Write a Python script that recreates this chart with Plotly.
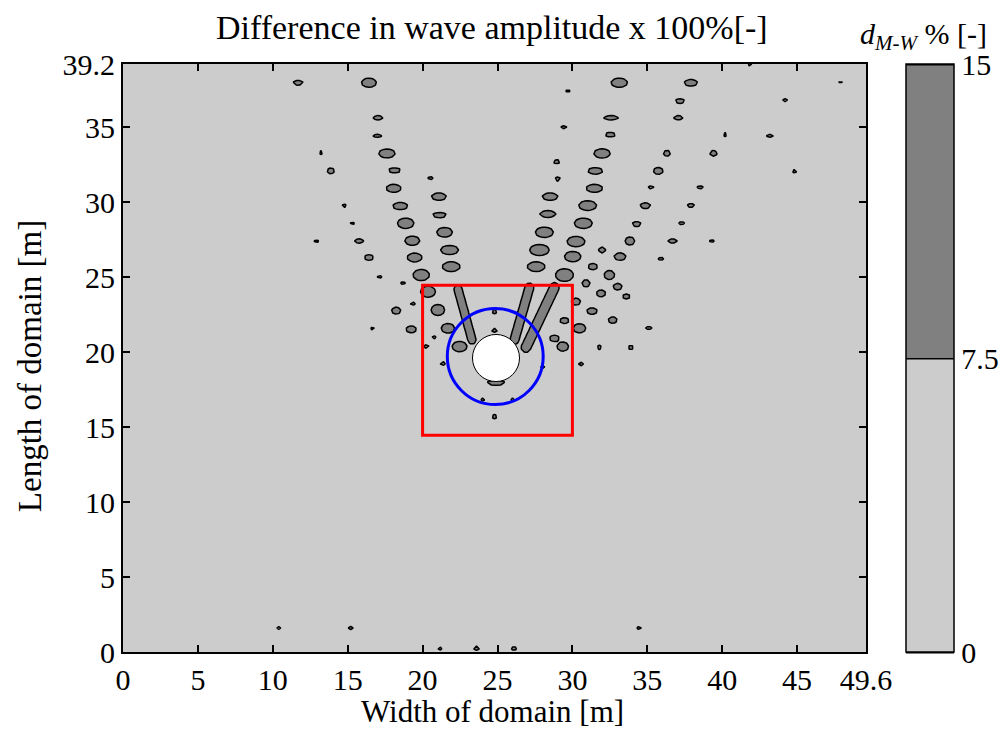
import numpy as np
import plotly.graph_objects as go

# ---------------- data (metres) ----------------
# isolated regions where the difference exceeds the 7.5 % level
blob_x = [11.69, 16.42, 17.02, 16.98, 13.24, 17.62, 13.87, 18.13, 20.53, 18.07,
          21.09, 14.76, 18.51, 21.13, 15.31, 18.87, 21.47, 12.91, 15.76, 19.31,
          21.80, 16.42, 19.47, 21.91, 19.91, 17.13, 18.69, 20.36, 19.36, 18.24,
          21.02, 19.24, 21.69, 20.76, 20.24, 22.47, 21.36, 16.67,
          24.80, 24.80, 24.80, 24.90, 24.02, 26.02,
          27.58, 29.47, 28.13, 27.80, 28.36, 28.51, 28.96, 29.02, 29.42, 29.70,
          30.02, 30.24, 30.73, 31.02, 31.47, 31.53, 31.98, 32.53, 32.58, 33.13,
          31.98, 33.18, 33.84, 34.29, 34.87, 35.24, 35.73, 36.31, 37.07, 37.18, 37.91,
          35.91, 36.69, 37.29, 37.91, 38.53, 39.42, 39.31, 40.18, 43.18, 44.20,
          44.84, 47.90, 41.87,
          31.36, 32.47, 30.91, 31.91, 33.02, 30.24, 31.31, 29.47, 32.69, 30.47,
          28.80, 31.80, 29.36, 30.58, 28.02, 33.60, 35.10, 33.90,
          10.40, 15.20, 34.45, 21.15, 23.60, 26.10]
blob_y = [37.95, 37.95, 35.62, 34.42, 33.29, 33.24, 32.07, 32.11, 31.58, 30.91,
          30.36, 29.73, 29.73, 29.13, 28.53, 28.58, 27.98, 27.36, 27.40, 27.42,
          26.80, 26.30, 26.30, 25.69, 25.13, 25.02, 24.58, 24.02, 23.24, 22.76,
          22.80, 21.51, 21.58, 20.96, 20.36, 20.36, 19.24, 21.53,
          22.69, 15.69, 21.45, 17.95, 16.84, 16.84,
          25.69, 25.13, 27.98, 26.80, 29.20, 30.36, 32.69, 31.53, 34.98, 37.40,
          26.36, 27.36, 28.58, 29.76, 30.91, 32.07, 33.24, 34.49, 35.62, 37.95,
          26.80, 26.36, 27.40, 28.53, 29.76, 30.96, 32.07, 33.24, 35.62, 36.73, 37.95,
          26.24, 27.40, 28.58, 29.76, 30.96, 33.24, 27.40, 34.49, 34.42, 36.78,
          32.07, 37.91, 39.13,
          25.69, 25.13, 24.58, 23.91, 24.36, 23.36, 22.73, 22.09, 22.13, 21.58,
          20.91, 20.31, 20.36, 19.20, 19.02, 23.70, 21.60, 20.30,
          1.60, 1.60, 1.60, 0.25, 0.25, 0.25]
blob_w = [0.67, 1.00, 0.67, 0.60, 0.30, 1.10, 0.50, 0.85, 0.35, 1.00,
          1.00, 0.35, 1.00, 0.95, 0.30, 1.10, 1.05, 0.30, 0.62, 1.00,
          1.20, 0.60, 1.00, 1.20, 1.10, 0.30, 0.30, 1.00, 0.35, 0.62,
          0.90, 0.70, 0.90, 0.30, 0.35, 1.00, 0.35, 0.30,
          0.40, 0.40, 0.40, 1.20, 0.30, 0.30,
          1.20, 1.20, 1.20, 1.30, 1.10, 1.05, 0.55, 0.40, 0.40, 0.25,
          1.10, 1.20, 1.20, 1.20, 1.10, 1.00, 1.10, 0.75, 1.00, 1.10,
          0.48, 0.80, 0.65, 0.62, 0.70, 0.40, 0.65, 0.48, 0.62, 0.62, 0.90,
          0.40, 0.62, 0.40, 0.50, 0.45, 0.48, 0.30, 0.30, 0.45, 0.35,
          0.35, 0.30, 0.30,
          0.62, 0.70, 0.55, 0.62, 0.60, 0.62, 0.70, 0.62, 0.60, 0.85,
          0.65, 0.35, 0.78, 0.35, 0.30, 0.50, 0.45, 0.35,
          0.30, 0.35, 0.30, 0.30, 0.40, 0.35]
blob_h = [0.33, 0.62, 0.33, 0.25, 0.25, 0.60, 0.40, 0.33, 0.25, 0.55,
          0.50, 0.25, 0.50, 0.35, 0.25, 0.70, 0.65, 0.25, 0.33, 0.62,
          0.62, 0.40, 0.60, 0.65, 0.75, 0.25, 0.25, 0.75, 0.25, 0.48,
          0.75, 0.48, 0.65, 0.25, 0.28, 0.70, 0.28, 0.25,
          0.28, 0.28, 0.28, 0.35, 0.25, 0.25,
          0.65, 0.85, 0.70, 0.75, 0.45, 0.50, 0.25, 0.28, 0.25, 0.30,
          0.70, 0.70, 0.70, 0.65, 0.55, 0.45, 0.62, 0.30, 0.33, 0.62,
          0.40, 0.50, 0.55, 0.33, 0.40, 0.25, 0.48, 0.40, 0.33, 0.33, 0.45,
          0.25, 0.33, 0.25, 0.30, 0.25, 0.40, 0.25, 0.25, 0.25, 0.25,
          0.25, 0.25, 0.25,
          0.45, 0.62, 0.48, 0.48, 0.45, 0.48, 0.45, 0.40, 0.45, 0.62,
          0.45, 0.28, 0.62, 0.28, 0.28, 0.35, 0.25, 0.28,
          0.25, 0.25, 0.25, 0.25, 0.30, 0.30]

# elongated regions (streaks) near the cylinder
streak_x0 = [22.36, 27.13, 28.80]
streak_y0 = [24.20, 24.30, 24.30]
streak_x1 = [23.30, 26.13, 26.90]
streak_y1 = [20.80, 20.80, 20.30]
streak_w = [0.55, 0.60, 0.65]

# domain, levels and overlays
domain_w = 49.6
domain_l = 39.2
levels = [0, 7.5, 15]
x_ticks = [0, 5, 10, 15, 20, 25, 30, 35, 40, 45, 49.6]
x_tick_text = ["0", "5", "10", "15", "20", "25", "30", "35", "40", "45", "49.6"]
y_ticks = [0, 5, 10, 15, 20, 25, 30, 35, 39.2]
y_tick_text = ["0", "5", "10", "15", "20", "25", "30", "35", "39.2"]
cyl_cx, cyl_cy, cyl_r = 24.9, 19.6, 1.57
ring_cx, ring_cy, ring_r = 24.85, 19.7, 3.2
box_x = [20.0, 30.0]
box_y = [14.45, 24.45]

# ---------------- field built from the regions ----------------
BASE, PEAK = 2.0, 8.0
k = np.sqrt(2 * np.log(PEAK / (levels[1] - BASE)))
gx = np.round(np.arange(0, domain_w + 1e-9, 0.2), 3)
gy = np.round(np.arange(0, domain_l + 1e-9, 0.2), 3)
X, Y = np.meshgrid(gx, gy)
F = np.zeros_like(X)
for bx, by, bw, bh in zip(blob_x, blob_y, blob_w, blob_h):
    sx = bw / 2 / k
    sy = bh / 2 / k
    F = np.maximum(F, PEAK * np.exp(-0.5 * (((X - bx) / sx) ** 2 + ((Y - by) / sy) ** 2)))
for x0, y0, x1, y1, w in zip(streak_x0, streak_y0, streak_x1, streak_y1, streak_w):
    dx, dy = x1 - x0, y1 - y0
    t = np.clip(((X - x0) * dx + (Y - y0) * dy) / (dx * dx + dy * dy), 0, 1)
    d2 = (X - (x0 + t * dx)) ** 2 + (Y - (y0 + t * dy)) ** 2
    s = w / 2 / k
    F = np.maximum(F, PEAK * np.exp(-0.5 * d2 / s ** 2))
Z = np.round(BASE + F, 2)

FONT = "Liberation Serif"

fig = go.Figure()
fig.add_trace(go.Contour(
    x=gx, y=gy, z=Z,
    zmin=levels[0], zmax=levels[2], autocontour=False,
    contours=dict(start=levels[0], end=levels[2], size=levels[1] - levels[0],
                  coloring="fill", showlines=True),
    line=dict(color="black", width=1.5, smoothing=0),
    colorscale=[[0, "#cccccc"], [0.4, "#cccccc"], [0.4, "#808080"], [1, "#808080"]],
    colorbar=dict(
        x=(906 - 123) / 744, xanchor="left", xpad=0,
        y=0.5, yanchor="middle", len=1, lenmode="fraction", ypad=0,
        thickness=48, thicknessmode="pixels",
        outlinewidth=1.5, outlinecolor="black",
        tickvals=levels, ticktext=["0", "7.5", "15"],
        ticks="", tickfont=dict(family=FONT, size=30, color="black"),
    ),
    hoverinfo="skip",
))
fig.add_trace(go.Scatter(
    x=[cyl_cx], y=[cyl_cy], mode="markers",
    marker=dict(symbol="cross-thin", size=16, line=dict(color="black", width=1.5)),
    showlegend=False, hoverinfo="skip",
))

fig.add_shape(type="circle", xref="x", yref="y",
              x0=cyl_cx - cyl_r, x1=cyl_cx + cyl_r, y0=cyl_cy - cyl_r, y1=cyl_cy + cyl_r,
              fillcolor="white", line=dict(color="black", width=1), layer="above")
fig.add_shape(type="circle", xref="x", yref="y",
              x0=ring_cx - ring_r, x1=ring_cx + ring_r, y0=ring_cy - ring_r, y1=ring_cy + ring_r,
              line=dict(color="#0000ff", width=3), layer="above")
fig.add_shape(type="rect", xref="x", yref="y",
              x0=box_x[0], x1=box_x[1], y0=box_y[0], y1=box_y[1],
              line=dict(color="#ff0000", width=3), layer="above")

fig.add_annotation(text="Difference in wave amplitude x 100%[-]", xref="paper", yref="paper",
                   x=0.497, y=(652 - 28) / 588, xanchor="center", yanchor="middle",
                   showarrow=False, font=dict(family=FONT, size=34, color="black"))
fig.add_annotation(text="<i>d</i><sub><i>M-W</i></sub> % [-]", xref="paper", yref="paper",
                   x=(925 - 123) / 744, y=(652 - 36) / 588, xanchor="center", yanchor="middle",
                   showarrow=False, font=dict(family=FONT, size=30, color="black"))
fig.add_annotation(text="Width of domain [m]", xref="paper", yref="paper",
                   x=0.497, y=(652 - 711) / 588, xanchor="center", yanchor="middle",
                   showarrow=False, font=dict(family=FONT, size=31, color="black"))
fig.add_annotation(text="Length of domain [m]", xref="paper", yref="paper",
                   x=(30 - 123) / 744, y=(652 - 366) / 588, xanchor="center", yanchor="middle",
                   textangle=-90, showarrow=False, font=dict(family=FONT, size=33, color="black"))

axis_common = dict(showline=True, linecolor="black", linewidth=2, mirror="ticks",
                   ticks="inside", ticklen=7, tickwidth=1.5, tickcolor="black",
                   showgrid=False, zeroline=False,
                   tickfont=dict(family=FONT, size=30, color="black"))
fig.update_xaxes(range=[0, domain_w], tickvals=x_ticks, ticktext=x_tick_text, **axis_common)
fig.update_yaxes(range=[0, domain_l], tickvals=y_ticks, ticktext=y_tick_text, **axis_common)

fig.update_layout(
    width=1004, height=730,
    margin=dict(l=123, r=137, t=64, b=78),
    paper_bgcolor="white", plot_bgcolor="#cccccc",
    showlegend=False,
)

fig.write_html("out.html")
